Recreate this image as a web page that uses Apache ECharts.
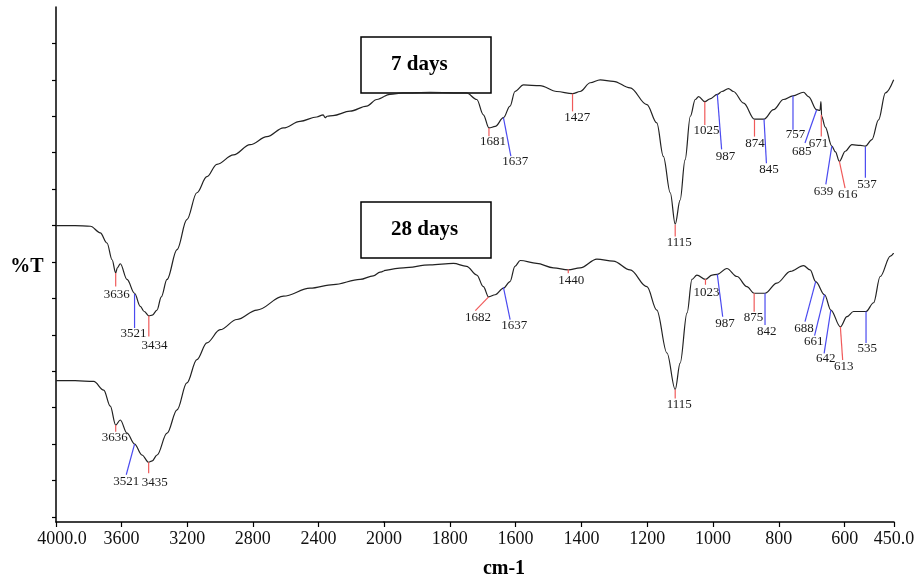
<!DOCTYPE html>
<html>
<head>
<meta charset="utf-8">
<script src="https://cdn.jsdelivr.net/npm/echarts@6/dist/echarts.min.js"></script>
<style>
html,body{margin:0;padding:0;background:#fff;}
#chart{width:923px;height:581px;}
</style>
</head>
<body>
<div id="chart"></div>
<script>
// ---- data (wavenumber cm-1, %T) ----
const days7 = [
[4000,40.0],[3884,40.0],[3790,39.9],[3730,39.0],[3689,37.6],[3658,35.3],[3636,33.5],[3626,34.2],[3608,34.75],[3567,32.6],[3521,30.7],[3486,28.9],[3462,28.2],[3434,27.6],[3413,27.7],[3384,28.4],[3358,30.2],[3323,32.6],[3262,36.7],[3202,40.8],[3141,44.5],[3080,46.7],[3019,48.4],[2918,49.7],[2816,51.1],[2714,52.2],[2613,53.4],[2512,54.3],[2410,54.9],[2371,55.2],[2359,54.8],[2347,55.0],[2311,55.1],[2207,55.7],[2105,56.4],[2044,57.3],[2000,57.7],
[1982,58.0],[1942,58.2],[1860,58.3],[1749,58.2],[1718,57.3],[1698,55.2],[1681,53.4],[1662,53.6],[1637,54.8],[1617,56.4],[1602,58.4],[1576,59.3],[1526,59.2],[1475,58.4],[1427,58.1],[1404,58.4],[1373,59.6],[1343,60.0],[1303,59.8],[1252,58.9],[1201,56.6],[1171,54.1],[1151,49.5],[1130,44.5],[1115,40.2],[1100,43.5],[1085,49.0],[1069,55.0],[1054,57.3],[1044,57.7],[1025,57.0],[1009,57.4],[987,58.0],[973,58.4],[953,58.8],[938,58.4],[907,56.8],[874,54.6],[845,54.6],[816,55.9],[786,57.3],[757,57.8],[725,58.3],[710,57.7],[685,55.9],[675,55.8],[672,57.0],[670,55.0],[659,53.5],[639,50.9],[628,50.1],[616,48.8],[598,50.2],[578,51.1],[552,51.0],[537,50.9],[517,51.8],[497,54.5],[476,58.2],[451,60.0]
];
const days28 = [
[4000,18.7],[3884,18.7],[3770,18.6],[3709,17.4],[3669,15.2],[3636,12.6],[3608,13.3],[3567,11.5],[3521,10.0],[3476,8.5],[3435,7.5],[3413,7.7],[3384,8.5],[3323,11.5],[3262,14.7],[3202,18.4],[3141,21.6],[3080,23.9],[2999,25.7],[2897,27.1],[2775,28.4],[2613,30.3],[2451,31.4],[2309,31.9],[2146,32.6],[2065,33.1],[2024,33.6],[2000,33.8],
[1941,34.2],[1860,34.6],[1789,34.8],[1749,34.4],[1718,33.2],[1698,31.6],[1682,30.2],[1662,30.5],[1637,31.4],[1617,32.3],[1602,34.4],[1586,35.2],[1536,34.8],[1485,34.2],[1440,33.9],[1404,34.2],[1353,35.4],[1303,35.1],[1252,33.9],[1201,31.6],[1171,28.4],[1140,22.5],[1115,17.5],[1100,21.1],[1079,28.0],[1064,32.6],[1049,33.2],[1023,32.6],[1003,33.2],[987,33.3],[958,34.1],[927,33.0],[897,31.6],[875,30.7],[842,30.7],[806,32.1],[765,33.7],[725,34.5],[705,33.9],[688,32.3],[661,30.5],[642,28.4],[613,26.1],[593,27.5],[573,28.2],[535,28.2],[512,29.4],[492,33.0],[461,35.8],[451,36.2]
];
// peak picks: [wavenumber, %T]
const peaks7 = [[3636,33.5],[3521,30.6],[3434,27.6],[1681,53.4],[1637,54.8],[1427,58.1],[1115,40.1],[1025,57.0],[987,58.0],[874,54.5],[845,54.6],[757,57.8],[685,55.9],[671,55.2],[639,50.9],[616,48.8],[537,50.8]];
const peaks28 = [[3636,12.6],[3521,10.0],[3435,7.5],[1682,30.2],[1637,31.5],[1440,34.0],[1115,17.5],[1023,32.65],[987,33.3],[875,30.7],[842,30.7],[688,32.3],[661,30.5],[642,28.4],[613,26.1],[535,28.2]];
const ticksHigh = [4000,3600,3200,2800,2400];
const ticksLow = [2000,1800,1600,1400,1200,1000,800,600,450];
const ticksY = [0,5,10,15,20,25,30,35,40,45,50,55,60,65];
const sampleNames = ['7 days','28 days'];

// ---- layout of peak leader lines (pixel offsets: line end dx,dy ; label dx,dy ; colour) ----
const leader7 = [[0,13.7,1,21.7,'r'],[0,34,-1,40,'b'],[0,20.7,5.7,29.7,'r'],[0,8.4,4,14,'r'],[7.4,38.4,11.7,44,'b'],[0,17.7,4.6,23.7,'r'],[0,11.7,4,17.3,'r'],[0,23.3,1.7,29,'r'],[4.3,55,8.3,61.7,'b'],[0,16.7,0.4,24,'r'],[2.4,44,5,50,'b'],[0,34,2.4,39,'b'],[-11.7,33.3,-15,42,'b'],[0,21.7,-2.7,28.3,'r'],[-6,38.3,-8.4,45.6,'b'],[5.7,26.6,8.4,33.3,'r'],[0,31,1.7,37.7,'b']];
const leader28 = [[0,6.7,-1,12.7,'r'],[-8.3,30.7,-8.3,38,'b'],[0,11,6,20,'r'],[-13.3,13.7,-10.6,20.4,'r'],[6.7,32.3,10.7,38.3,'b'],[0,4,3,11.7,'r'],[0,9,4,14.7,'r'],[0,5.7,1,13.4,'r'],[5.4,42.4,7.7,49,'b'],[0,18.4,-0.7,24,'r'],[0,31.7,1.7,38.4,'b'],[-10.7,40,-11.7,46.6,'b'],[-10,41,-10.7,47.3,'b'],[-6.7,43.3,-5,49,'b'],[2.3,33.3,3.3,40,'r'],[0,31.6,1.3,37.3,'b']];
const COLORS = {r:'#f05a5a', b:'#4a4af0'};
const SERIF = '"Liberation Serif","Times New Roman",serif';

const chart = echarts.init(document.getElementById('chart'));

function lineSeries(data, gi) {
  const d = data.filter(p => gi === 0 ? p[0] >= 2000 : p[0] <= 2000);
  return {
    type: 'line', xAxisIndex: gi, yAxisIndex: gi, data: d,
    showSymbol: false, symbol: 'none', smooth: 0.35, smoothMonotone: 'x',
    lineStyle: {color: '#222', width: 1.2}, animation: false, z: 2
  };
}
function peakSeries(peaks, layout, gi) {
  const d = [];
  peaks.forEach((p, i) => {
    if ((gi === 0 && p[0] > 2000) || (gi === 1 && p[0] <= 2000)) d.push([p[0], p[1], i]);
  });
  return {
    type: 'custom', xAxisIndex: gi, yAxisIndex: gi, data: d, animation: false, z: 3,
    encode: {x: 0, y: 1},
    renderItem: function (params, api) {
      const w = api.value(0), t = api.value(1), i = api.value(2);
      const p = api.coord([w, t]);
      const L = layout[i];
      return {
        type: 'group',
        children: [
          {type: 'line', shape: {x1: p[0], y1: p[1], x2: p[0] + L[0], y2: p[1] + L[1]},
           style: {stroke: COLORS[L[4]], lineWidth: 1.2}},
          {type: 'text', style: {text: String(w), x: p[0] + L[2], y: p[1] + L[3],
           align: 'center', verticalAlign: 'middle', font: '13px ' + SERIF, fill: '#1a1a1a'}}
        ]
      };
    }
  };
}
function boxGraphic(name, x, y) {
  return {
    type: 'group', x: x, y: y, z: 100,
    children: [
      {type: 'rect', shape: {x: 0, y: 0, width: 130, height: 56},
       style: {fill: '#fff', stroke: '#000', lineWidth: 1.5}},
      {type: 'text', style: {text: name, x: 30, y: 28, align: 'left', verticalAlign: 'middle',
       font: 'bold 21px ' + SERIF, fill: '#000'}}
    ]
  };
}

const axisLineStyle = {show: true, onZero: false, lineStyle: {color: '#000', width: 1.5}};
const xLabelStyle = {color: '#111', fontFamily: SERIF, fontSize: 18, margin: 8};

chart.setOption({
  backgroundColor: '#fff',
  animation: false,
  grid: [
    {left: 56, top: 7, width: 328, height: 515},
    {left: 384, top: 7, width: 510, height: 515}
  ],
  xAxis: [
    {type: 'value', gridIndex: 0, min: 2000, max: 4000, inverse: true,
     axisLine: axisLineStyle,
     axisTick: {show: true, inside: false, length: 5, customValues: ticksHigh, lineStyle: {color: '#000', width: 1.2}},
     axisLabel: Object.assign({}, xLabelStyle, {customValues: ticksHigh,
       formatter: v => v === 4000 ? '{a|4000.0}' : String(v),
       rich: {a: {fontFamily: SERIF, fontSize: 18, color: '#111', padding: [0, 0, 0, 12]}}}),
     splitLine: {show: false}},
    {type: 'value', gridIndex: 1, min: 450, max: 2000, inverse: true,
     axisLine: axisLineStyle,
     axisTick: {show: true, inside: false, length: 5, customValues: ticksLow, lineStyle: {color: '#000', width: 1.2}},
     axisLabel: Object.assign({}, xLabelStyle, {customValues: ticksLow,
       formatter: v => v === 450 ? '450.0' : String(v)}),
     splitLine: {show: false}}
  ],
  yAxis: [
    {type: 'value', gridIndex: 0, min: -0.7, max: 70,
     axisLine: axisLineStyle,
     axisTick: {show: true, inside: false, length: 4, customValues: ticksY, lineStyle: {color: '#000', width: 1.2}},
     axisLabel: {show: false}, splitLine: {show: false}},
    {type: 'value', gridIndex: 1, min: -0.7, max: 70, show: false, splitLine: {show: false}}
  ],
  graphic: [
    boxGraphic(sampleNames[0], 361, 37),
    boxGraphic(sampleNames[1], 361, 202),
    {type: 'text', x: 27, y: 267, z: 100, style: {text: '%T', align: 'center', verticalAlign: 'middle',
      font: 'bold 20px ' + SERIF, fill: '#000'}},
    {type: 'text', x: 504, y: 569, z: 100, style: {text: 'cm-1', align: 'center', verticalAlign: 'middle',
      font: 'bold 20px ' + SERIF, fill: '#000'}}
  ],
  series: [
    lineSeries(days7, 0), lineSeries(days7, 1),
    lineSeries(days28, 0), lineSeries(days28, 1),
    peakSeries(peaks7, leader7, 0), peakSeries(peaks7, leader7, 1),
    peakSeries(peaks28, leader28, 0), peakSeries(peaks28, leader28, 1)
  ]
});
</script>
</body>
</html>
